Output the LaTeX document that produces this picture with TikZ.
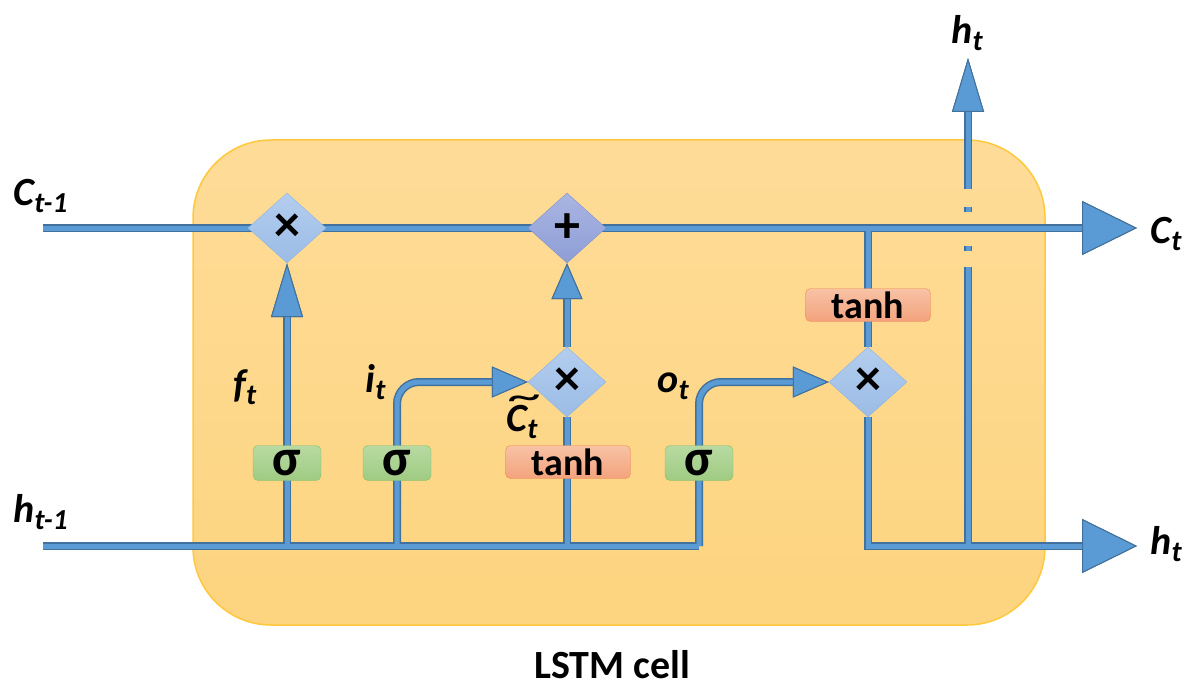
\documentclass[tikz,border=0pt]{standalone}
\usepackage{fontspec}
\setmainfont{Carlito}
\usetikzlibrary{arrows.meta,shapes.geometric,positioning}
\pgfdeclarelayer{bg}\pgfdeclarelayer{wire}
\pgfsetlayers{bg,wire,main}
\definecolor{cellT}{HTML}{FEDC98}
\definecolor{cellU}{HTML}{FDD47F}
\definecolor{cellB}{HTML}{FFC83D}
\definecolor{wireL}{HTML}{5B9BD5}
\definecolor{wireD}{HTML}{41719C}
\definecolor{gateT}{HTML}{B3CDEE}
\definecolor{gateU}{HTML}{9BBCE6}
\definecolor{gateB}{HTML}{8DB3E2}
\definecolor{addT}{HTML}{A9B5E2}
\definecolor{addU}{HTML}{8E9ED6}
\definecolor{addB}{HTML}{8190CF}
\definecolor{sigT}{HTML}{B8DAA2}
\definecolor{sigU}{HTML}{9FCB82}
\definecolor{sigB}{HTML}{86BE62}
\definecolor{tanhT}{HTML}{F8C2A6}
\definecolor{tanhU}{HTML}{F3A37C}
\definecolor{tanhB}{HTML}{EE8A4C}
% label with subscript
\newcommand{\lab}[2]{{\fontsize{40}{40}\selectfont\bfseries\itshape #1\raisebox{-7pt}{\fontsize{29}{29}\selectfont #2}}}
\newcommand{\tld}{\rlap{\raisebox{22pt}{\hspace{1pt}\fontsize{40}{40}\selectfont\mdseries\upshape\scalebox{1.7}[1]{\textasciitilde}}}C}
\tikzset{
  gate/.style={diamond, draw=gateB, top color=gateT, bottom color=gateU, inner sep=0pt,
    minimum width=78pt, minimum height=70pt, font=\fontsize{52}{52}\selectfont\bfseries},
  addgate/.style={gate, draw=addB, top color=addT, bottom color=addU},
  sigbox/.style={rectangle, rounded corners=5pt, draw=sigB, top color=sigT, bottom color=sigU,
    inner sep=0pt, minimum width=68pt, minimum height=35pt, font=\fontsize{52}{52}\selectfont\bfseries},
  tanhbox/.style={rectangle, rounded corners=5pt, draw=tanhB, top color=tanhT, bottom color=tanhU,
    inner sep=0pt, minimum width=125pt, minimum height=33pt, font=\fontsize{38}{38}\selectfont\bfseries},
  bigtip/.style={-{Triangle[length=55pt,width=54pt,color=wireD,fill=wireL,line width=1pt]}},
  uptip/.style={-{Triangle[length=54pt,width=32pt,color=wireD,fill=wireL,line width=1pt]}},
  smalltip/.style={-{Triangle[length=36pt,width=31pt,color=wireD,fill=wireL,line width=1pt]}},
}
\begin{document}
\begin{tikzpicture}[x=1pt, y=-1pt, line cap=rect]
\useasboundingbox (0,0) rectangle (1193,687);
\def\yc{228} \def\yh{546} \def\yg{382} \def\ys{463}
\begin{pgfonlayer}{bg}
  \draw[draw=cellB, line width=1.5pt, top color=cellT, bottom color=cellU, rounded corners=78pt]
    (193,140) rectangle (1045,625);
\end{pgfonlayer}
% gates
\node[gate] (fg) at (287,\yc) {×};
\node[addgate] (add) at (567,\yc) {+};
\node[gate] (ig) at (567,\yg) {×};
\node[gate] (og) at (868,\yg) {×};
\node[sigbox] (sf) at (287,\ys) {σ};
\node[sigbox] (si) at (397,\ys) {σ};
\node[sigbox] (so) at (699,\ys) {σ};
\node[tanhbox] (tc) at (568,462) {tanh};
\node[tanhbox] (th) at (868,305) {tanh};
% ends
\coordinate (cin) at (43,\yc);
\coordinate (cout) at (1137,\yc);
\coordinate (hin) at (43,\yh);
\coordinate (hout) at (1137,\yh);
\coordinate (htop) at (968,58);
\coordinate (hend) at (699,\yh);
\begin{pgfonlayer}{wire}
\foreach \lw/\lc in {8/wireD,5/wireL}{
  \begin{scope}[line width=\lw pt, draw=\lc]
    \draw[bigtip] (cin) -- (cout);
    \draw (hin) -- (hend);
    \draw[uptip] (sf.south |- hin) -- (fg.south);
    \draw[smalltip, rounded corners=22pt] (si.south |- hin) -- (si.south |- ig.west) -- (ig.west);
    \draw (ig.south |- hin) -- (ig.south);
    \draw[smalltip] (ig.north) -- (add.south);
    \draw[smalltip, rounded corners=22pt] (hend) -- (hend |- og.west) -- (og.west);
    \draw (th.north |- cin) -- (og.north);
    \draw[bigtip] (og.south) -- (og.south |- hout) -- (hout);
    % h_t upwards, broken at C line
    \draw (968,\yh) -- (968,267);
    \draw (968,246) -- (968,251);
    \draw (968,207) -- (968,212);
    \draw[uptip] (968,189) -- (htop);
  \end{scope}
}
\end{pgfonlayer}
% labels
\node[anchor=base west] (lc0) at (10,205) {\lab{C}{t-1}};
\node[anchor=base west] (lh0) at (10,522) {\lab{h}{t-1}};
\node[anchor=base west] (lf) at (230,397) {\lab{f}{t}};
\node[anchor=base west] (li) at (362,392) {\lab{i}{t}};
\node[anchor=base west] (lo) at (654,392) {\lab{o}{t}};
\node[anchor=base west] (lct) at (503,431) {\lab{\tld}{t}};
\node[anchor=base west] (lct1) at (1147,243) {\lab{C}{t}};
\node[anchor=base west] (lht1) at (1147,554) {\lab{h}{t}};
\node[anchor=base west] (lht2) at (948,44) {\lab{h}{t}};
\node[anchor=base, font=\fontsize{40}{40}\selectfont\bfseries] (title) at (612,678) {LSTM cell};
\end{tikzpicture}
\end{document}
